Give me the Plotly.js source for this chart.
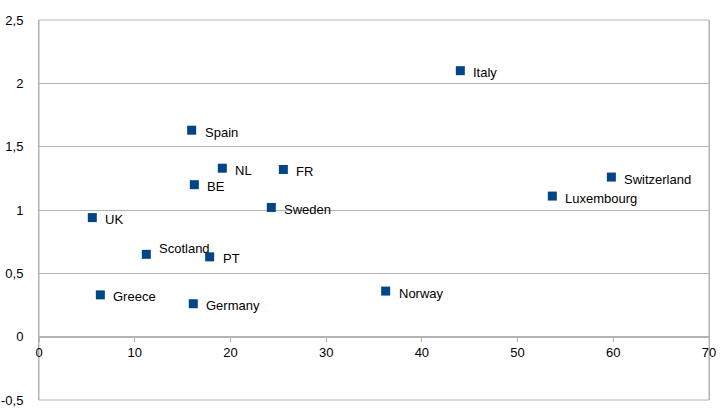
<!DOCTYPE html>
<html><head><meta charset="utf-8">
<script src="https://cdn.plot.ly/plotly-3.0.1.min.js"></script>
<style>html,body{margin:0;padding:0;background:#fff}#chart{width:720px;height:420px}</style>
</head><body><div id="chart"></div>
<script>
const countries = ["Spain","NL","FR","BE","Sweden","UK","Scotland","PT","Greece","Germany","Italy","Switzerland","Luxembourg","Norway"];
const xValues = [15.95,19.15,25.53,16.23,24.27,5.57,11.21,17.83,6.41,16.12,44.02,59.8,53.63,36.22];
const yValues = [1.63,1.33,1.32,1.20,1.02,0.94,0.65,0.63,0.33,0.26,2.10,1.26,1.11,0.36];
const yTickVals = [-0.5,0,0.5,1,1.5,2,2.5];
const yTickLabels = ["-0,5","0","0,5","1","1,5","2","2,5"];
const xTickVals = [0,10,20,30,40,50,60,70];
const xTickLabels = ["0","10","20","30","40","50","60","70"];

const grid = '#b3b3b3';
const font = {family:'"Liberation Sans", Arial, sans-serif', size:13, color:'#000'};
// label nudges (pixels) for labels that the original moved to avoid overlap
const raisedLabels = {"Scotland": 8};

const trace = {
  type:'scatter', mode:'markers', x:xValues, y:yValues,
  marker:{symbol:'square', size:9, color:'#004586'},
  hoverinfo:'none', showlegend:false
};
const annotations = countries.map((c,i)=>({
  x:xValues[i], y:yValues[i], xref:'x', yref:'y', text:c, showarrow:false,
  xanchor:'left', yanchor:'middle', xshift:11, yshift:-2 + (raisedLabels[c]||0), font:font
}));

const layout = {
  width:720, height:420,
  margin:{l:39, r:11, t:20, b:20},
  paper_bgcolor:'#fff', plot_bgcolor:'#fff',
  font:font,
  showlegend:false,
  xaxis:{range:[0,70], tickvals:xTickVals, ticktext:xTickLabels,
    showgrid:false, zeroline:false, showline:true, linecolor:grid, linewidth:1,
    ticks:'outside', ticklen:4, tickcolor:grid,
    anchor:'free', position:1/6, tickfont:font},
  yaxis:{range:[-0.5,2.5], tickvals:yTickVals, ticktext:yTickLabels,
    showgrid:true, gridcolor:grid, gridwidth:1, zeroline:false,
    showline:true, linecolor:grid, linewidth:1, mirror:true,
    ticks:'outside', ticklen:8, tickcolor:'rgba(0,0,0,0)', ticklabelstandoff:4, tickfont:font},
  shapes:[{type:'rect', xref:'paper', yref:'paper', x0:0, x1:1, y0:0, y1:1,
    line:{color:grid, width:1}, layer:'below'}],
  annotations:annotations
};
Plotly.newPlot('chart',[trace],layout,{displayModeBar:false, staticPlot:true});
</script></body></html>
